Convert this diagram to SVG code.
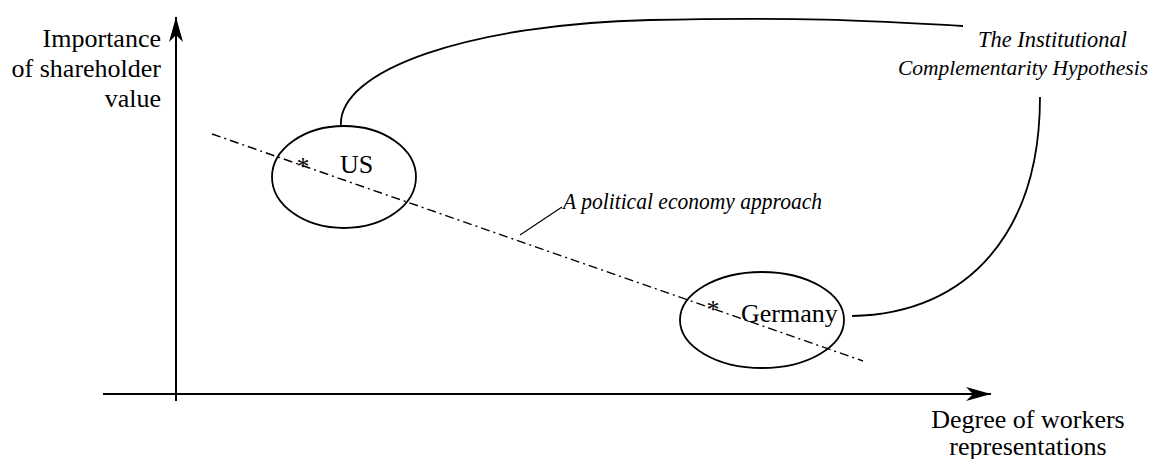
<svg xmlns="http://www.w3.org/2000/svg" width="1158" height="459" viewBox="0 0 1158 459">
<defs>
<marker id="ah" markerUnits="userSpaceOnUse" markerWidth="30" markerHeight="20" refX="0" refY="0" viewBox="-27 -10 30 20" orient="auto" overflow="visible">
<path d="M0,0 L-25,-7 L-18,0 L-25,7 Z" fill="#000"/>
</marker>
</defs>
<rect width="1158" height="459" fill="#fff"/>
<g id="axes" stroke="#000" stroke-width="2" fill="none">
<line x1="176" y1="401" x2="176" y2="17" marker-end="url(#ah)"/>
<line x1="103" y1="394" x2="991" y2="394" marker-end="url(#ah)"/>
</g>
<g id="connectors" stroke="#000" fill="none">
<line x1="212" y1="134" x2="863" y2="361" stroke-width="1.4" stroke-dasharray="9 4 2 4"/>
<path d="M341,127 C336,70 470,24 650,20 S900,23 963,26" stroke-width="1.8"/>
<path d="M852,316 C970,314 1040,230 1040,97" stroke-width="1.8"/>
<line x1="562" y1="207" x2="520" y2="235" stroke-width="1.2"/>
</g>
<g id="y-label">
<text style="font-family:'Liberation Serif',serif;font-size:26px" text-anchor="end" x="161" y="47">Importance</text>
<text style="font-family:'Liberation Serif',serif;font-size:26px" text-anchor="end" x="161" y="77">of shareholder</text>
<text style="font-family:'Liberation Serif',serif;font-size:26px" text-anchor="end" x="161" y="107">value</text>
</g>
<g id="x-label">
<text style="font-family:'Liberation Serif',serif;font-size:26px" text-anchor="middle" x="1028" y="428">Degree of workers</text>
<text style="font-family:'Liberation Serif',serif;font-size:26px" text-anchor="middle" x="1028" y="455">representations</text>
</g>
<g id="node-us">
<ellipse cx="344" cy="177" rx="72" ry="51" stroke="#000" stroke-width="1.8" fill="none"/>
<text style="font-family:'Liberation Serif',serif;font-size:26px" text-anchor="middle" x="303" y="175">*</text>
<text style="font-family:'Liberation Serif',serif;font-size:26px" x="340" y="173">US</text>
</g>
<g id="node-germany">
<ellipse cx="762" cy="320" rx="82" ry="48" stroke="#000" stroke-width="1.8" fill="none"/>
<text style="font-family:'Liberation Serif',serif;font-size:26px" text-anchor="middle" x="713" y="318">*</text>
<text style="font-family:'Liberation Serif',serif;font-size:26px" x="741" y="322">Germany</text>
</g>
<g id="hypothesis">
<text style="font-family:'Liberation Serif',serif;font-size:24px;font-style:italic" x="978" y="47" textLength="149" lengthAdjust="spacingAndGlyphs">The Institutional</text>
<text style="font-family:'Liberation Serif',serif;font-size:22px;font-style:italic" x="898" y="75" textLength="250" lengthAdjust="spacingAndGlyphs">Complementarity Hypothesis</text>
</g>
<g id="approach">
<text style="font-family:'Liberation Serif',serif;font-size:23px;font-style:italic" x="563" y="209" textLength="259" lengthAdjust="spacingAndGlyphs">A political economy approach</text>
</g>
</svg>
